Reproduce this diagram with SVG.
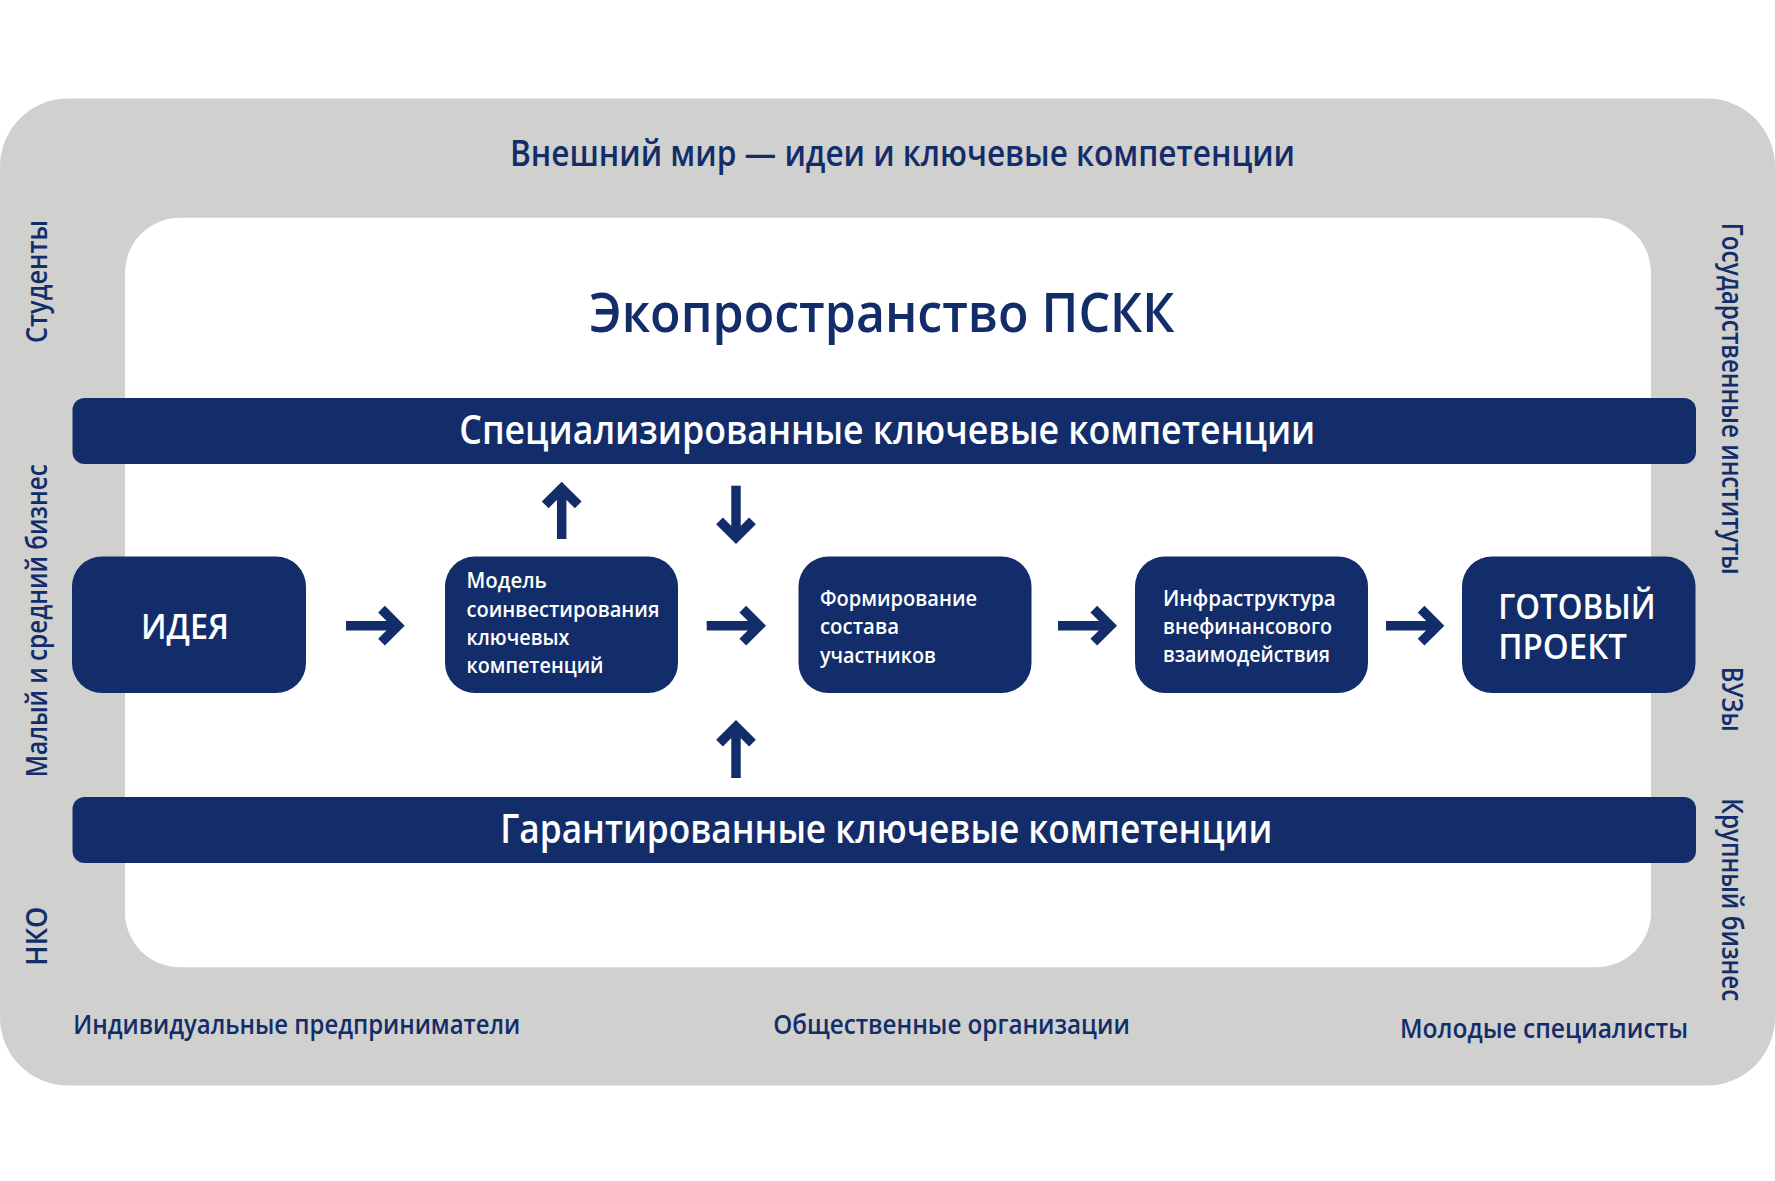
<svg xmlns="http://www.w3.org/2000/svg" width="1775" height="1181" viewBox="0 0 1775 1181">
<defs>
<style>
.t{font-family:"Open Sans","Noto Sans","DejaVu Sans",sans-serif;}
.navy{fill:#122d6a;}
.lab{font-size:28px;font-weight:600;fill:#122d6a;}
.bot{font-size:27px;font-weight:600;fill:#122d6a;}
.box{fill:#122d6a;}
.bt{font-size:21px;font-weight:600;fill:#ffffff;}
.big{font-size:34px;font-weight:600;fill:#ffffff;}
.band{font-size:40px;font-weight:600;fill:#ffffff;}
.arr{stroke:#122d6a;stroke-width:9.5;fill:none;marker-end:url(#chev);}
</style>
<marker id="chev" markerUnits="userSpaceOnUse" viewBox="-30 -25 40 50" refX="0" refY="0" markerWidth="40" markerHeight="50" orient="auto" overflow="visible">
<path d="M -16.5 -16.5 L 0 0 L -16.5 16.5" fill="none" stroke="#122d6a" stroke-width="9.5" stroke-linejoin="miter"/>
</marker>
</defs>
<rect width="1775" height="1181" fill="#ffffff"/>
<g id="outer">
<rect x="0" y="98.5" width="1775" height="987" rx="68" fill="#d0d0ce"/>
<text class="t navy" x="510" y="166" font-size="36" font-weight="600" textLength="785" lengthAdjust="spacingAndGlyphs">Внешний мир — идеи и ключевые компетенции</text>
<text class="t lab" transform="translate(46.7,343) rotate(-90)" textLength="123" lengthAdjust="spacingAndGlyphs">Студенты</text>
<text class="t lab" transform="translate(46.7,777.3) rotate(-90)" textLength="313" lengthAdjust="spacingAndGlyphs">Малый и средний бизнес</text>
<text class="t lab" transform="translate(46.7,965.7) rotate(-90)" textLength="59" lengthAdjust="spacingAndGlyphs">НКО</text>
<text class="t lab" transform="translate(1722,222.7) rotate(90)" textLength="352" lengthAdjust="spacingAndGlyphs">Государственные институты</text>
<text class="t lab" transform="translate(1722,666.7) rotate(90)" textLength="65" lengthAdjust="spacingAndGlyphs">ВУЗы</text>
<text class="t lab" transform="translate(1722,798.3) rotate(90)" textLength="203" lengthAdjust="spacingAndGlyphs">Крупный бизнес</text>
<text class="t bot" x="73.3" y="1034.3" textLength="447" lengthAdjust="spacingAndGlyphs">Индивидуальные предприниматели</text>
<text class="t bot" x="773.2" y="1034.3" textLength="356.6" lengthAdjust="spacingAndGlyphs">Общественные организации</text>
<text class="t bot" x="1400" y="1037.7" textLength="288" lengthAdjust="spacingAndGlyphs">Молодые специалисты</text>
</g>
<g id="ecospace">
<rect x="125" y="217.7" width="1526" height="749.6" rx="55" fill="#ffffff"/>
<text class="t navy" x="589.3" y="332.3" font-size="55" font-weight="600" textLength="585" lengthAdjust="spacingAndGlyphs">Экопространство ПСКК</text>
</g>
<g id="band-special">
<rect x="72.5" y="398" width="1623.5" height="66" rx="12" class="box"/>
<text class="t band" x="459.3" y="444" textLength="856" lengthAdjust="spacingAndGlyphs">Специализированные ключевые компетенции</text>
</g>
<g id="band-guaranteed">
<rect x="72.5" y="797" width="1623.5" height="66" rx="12" class="box"/>
<text class="t band" x="500.3" y="843" textLength="772" lengthAdjust="spacingAndGlyphs">Гарантированные ключевые компетенции</text>
</g>
<g id="node-idea">
<rect x="72" y="556.5" width="234" height="136.5" rx="30" class="box"/>
<text class="t big" x="141" y="639.3" textLength="88" lengthAdjust="spacingAndGlyphs">ИДЕЯ</text>
</g>
<g id="node-model">
<rect x="445" y="556.5" width="233" height="136.5" rx="30" class="box"/>
<text class="t bt" x="466.5" y="588.3" textLength="80.4" lengthAdjust="spacingAndGlyphs">Модель</text>
<text class="t bt" x="466.5" y="616.7" textLength="193" lengthAdjust="spacingAndGlyphs">соинвестирования</text>
<text class="t bt" x="466.5" y="645" textLength="103" lengthAdjust="spacingAndGlyphs">ключевых</text>
<text class="t bt" x="466.5" y="673" textLength="137" lengthAdjust="spacingAndGlyphs">компетенций</text>
</g>
<g id="node-formation">
<rect x="798.5" y="556.5" width="233" height="136.5" rx="30" class="box"/>
<text class="t bt" x="820" y="605.7" textLength="157" lengthAdjust="spacingAndGlyphs">Формирование</text>
<text class="t bt" x="820" y="634" textLength="79" lengthAdjust="spacingAndGlyphs">состава</text>
<text class="t bt" x="820" y="662.7" textLength="116" lengthAdjust="spacingAndGlyphs">участников</text>
</g>
<g id="node-infra">
<rect x="1135" y="556.5" width="233" height="136.5" rx="30" class="box"/>
<text class="t bt" x="1163" y="606" textLength="172.7" lengthAdjust="spacingAndGlyphs">Инфраструктура</text>
<text class="t bt" x="1163" y="633.5" textLength="169" lengthAdjust="spacingAndGlyphs">внефинансового</text>
<text class="t bt" x="1163" y="661.7" textLength="167" lengthAdjust="spacingAndGlyphs">взаимодействия</text>
</g>
<g id="node-ready">
<rect x="1462" y="556.5" width="233.5" height="136.5" rx="30" class="box"/>
<text class="t big"><tspan x="1498.3" y="619.3" textLength="157.4" lengthAdjust="spacingAndGlyphs">ГОТОВЫЙ</tspan><tspan x="1498.3" y="659.3" textLength="128.7" lengthAdjust="spacingAndGlyphs">ПРОЕКТ</tspan></text>
</g>
<g id="connectors">
<line class="arr" x1="346" y1="625.7" x2="398" y2="625.7"/>
<line class="arr" x1="706.7" y1="625.7" x2="759.3" y2="625.7"/>
<line class="arr" x1="1058" y1="625.7" x2="1110.3" y2="625.7"/>
<line class="arr" x1="1386" y1="625.7" x2="1437.6" y2="625.7"/>
<line class="arr" x1="561.7" y1="539" x2="561.7" y2="488.4"/>
<line class="arr" x1="736" y1="485.7" x2="736" y2="537.4"/>
<line class="arr" x1="736" y1="778" x2="736" y2="726.6"/>
</g>
</svg>
